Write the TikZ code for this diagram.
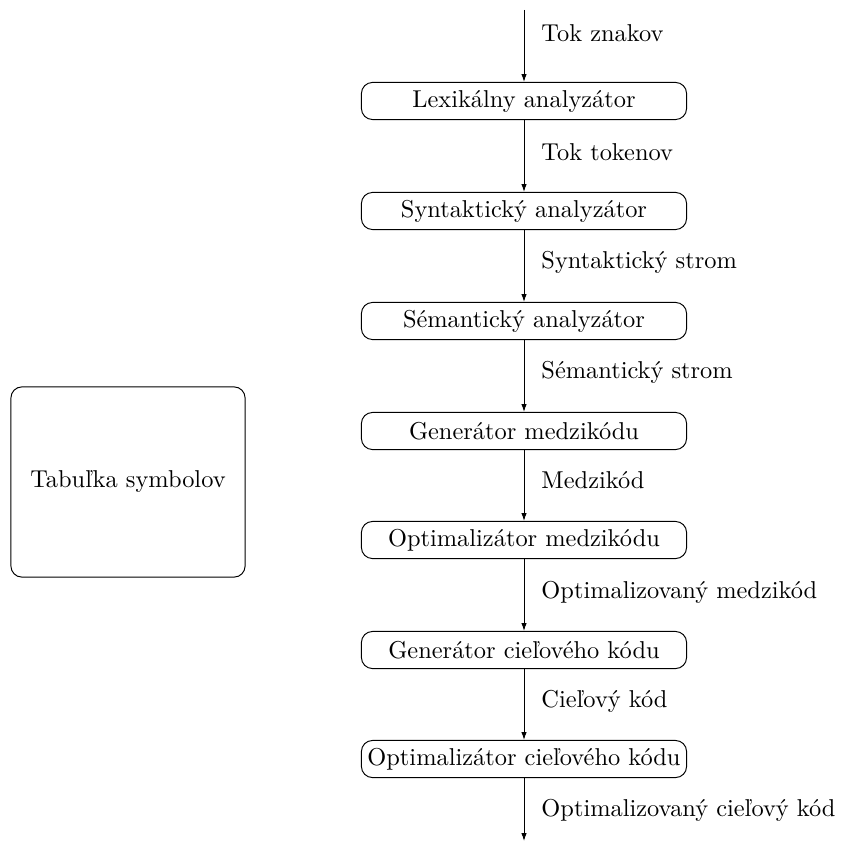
\documentclass[tikz,border=0pt]{standalone}
\usetikzlibrary{arrows.meta}
\begin{document}
\begin{tikzpicture}[x=0.41pt,y=-0.41pt,
  stage/.style={draw,rounded corners=4.5pt,minimum width=133.3pt,minimum height=15.2pt,inner sep=1pt,line width=0.4pt},
  flow/.style={-{Latex[length=3.2pt,width=2.2pt]},line width=0.4pt},
  lab/.style={anchor=west,inner sep=0pt}]
\useasboundingbox (0,0) rectangle (840,843);
\coordinate (in) at (524,10);
\node[stage] (s1) at (524,101) {Lexikálny analyzátor};
\node[stage] (s2) at (524,211) {Syntaktický analyzátor};
\node[stage] (s3) at (524,321) {Sémantický analyzátor};
\node[stage] (s4) at (524,431) {Generátor medzikódu};
\node[stage] (s5) at (524,540) {Optimalizátor medzikódu};
\node[stage] (s6) at (524,650) {Generátor cieľového kódu};
\node[stage] (s7) at (524,759) {Optimalizátor cieľového kódu};
\coordinate (out) at (524,841);
\node[draw,rounded corners=4.5pt,minimum width=96pt,minimum height=78pt,line width=0.4pt] (tab) at (128,482) {Tabuľka symbolov};
\draw[flow] (in) -- (s1);
\draw[flow] (s1) -- (s2);
\draw[flow] (s2) -- (s3);
\draw[flow] (s3) -- (s4);
\draw[flow] (s4) -- (s5);
\draw[flow] (s5) -- (s6);
\draw[flow] (s6) -- (s7);
\draw[flow] (s7) -- (out);
\node[lab] (l0) at (541,33) {Tok znakov};
\node[lab] (l1) at (541,152) {Tok tokenov};
\node[lab] (l2) at (541,262) {Syntaktický strom};
\node[lab] (l3) at (541,372) {Sémantický strom};
\node[lab] (l4) at (541,480) {Medzikód};
\node[lab] (l5) at (541,592) {Optimalizovaný medzikód};
\node[lab] (l6) at (541,701) {Cieľový kód};
\node[lab] (l7) at (541,810) {Optimalizovaný cieľový kód};
\end{tikzpicture}
\end{document}
